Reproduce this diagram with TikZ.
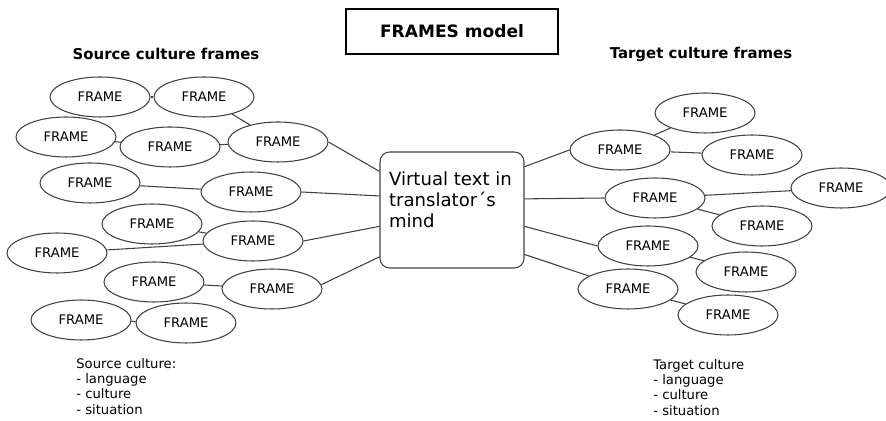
\documentclass[tikz,border=0pt]{standalone}
\usepackage{fontspec}
\setmainfont{DejaVu Sans}
\usetikzlibrary{shapes.geometric,calc}
\tikzset{
  frm/.style  = {ellipse, draw=black!75, line width=0.6pt, fill=white,
                 inner sep=0pt, minimum width=2cm, minimum height=0.8cm,
                 font=\fontsize{7.5}{9}\selectfont},
  vbox/.style = {rectangle, rounded corners=5.5pt, draw=black!75, line width=0.6pt,
                 inner xsep=0.18cm, inner ysep=0.1cm,
                 font=\fontsize{10.3}{12}\selectfont},
  ttl/.style  = {rectangle, draw=black, line width=1.2pt, minimum width=4.24cm,
                 minimum height=0.9cm, font=\bfseries\fontsize{9.7}{12}\selectfont},
  hdr/.style  = {inner sep=0pt, font=\bfseries\fontsize{8.5}{10}\selectfont},
  note/.style = {anchor=north west, align=left, inner sep=0pt,
                 font=\fontsize{7.5}{8.7}\selectfont},
  link/.style = {draw=black!75, line width=0.6pt},
}
\begin{document}
\begin{tikzpicture}[x=0.02cm, y=-0.02cm]
  \useasboundingbox (0,0) rectangle (886,421);

  % titles
  \node[ttl] (title) at (452,31.5) {FRAMES model};
  \node[hdr] (srch) at (166,54) {Source culture frames};
  \node[hdr] (tgth) at (701,54) {Target culture frames};

  % centre box
  \node[vbox] (mind) at (452,210)
       {\parbox[c][2.12cm][t]{2.52cm}{\vspace*{8.5pt}Virtual text in\\translator´s\\mind}};
  \coordinate (inl1) at ($(mind.north west)!0.17!(mind.south west)$);
  \coordinate (inl2) at ($(mind.north west)!0.38!(mind.south west)$);
  \coordinate (inl3) at ($(mind.north west)!0.64!(mind.south west)$);
  \coordinate (inl4) at ($(mind.north west)!0.90!(mind.south west)$);
  \coordinate (inr1) at ($(mind.north east)!0.13!(mind.south east)$);
  \coordinate (inr2) at ($(mind.north east)!0.405!(mind.south east)$);
  \coordinate (inr3) at ($(mind.north east)!0.64!(mind.south east)$);
  \coordinate (inr4) at ($(mind.north east)!0.88!(mind.south east)$);

  % source culture frames
  \node[frm] (s1)  at (100,97)  {FRAME};
  \node[frm] (s2)  at (204,97)  {FRAME};
  \node[frm] (s3)  at (66,137)  {FRAME};
  \node[frm] (s4)  at (170,147) {FRAME};
  \node[frm] (s5)  at (278,142) {FRAME};
  \node[frm] (s6)  at (90,183)  {FRAME};
  \node[frm] (s7)  at (251,192) {FRAME};
  \node[frm] (s8)  at (152,224) {FRAME};
  \node[frm] (s9)  at (253,241) {FRAME};
  \node[frm] (s10) at (57,253)  {FRAME};
  \node[frm] (s11) at (154,282) {FRAME};
  \node[frm] (s12) at (272,289) {FRAME};
  \node[frm] (s13) at (81,320)  {FRAME};
  \node[frm] (s14) at (186,323) {FRAME};

  % target culture frames
  \node[frm] (t1)  at (705,113) {FRAME};
  \node[frm] (t2)  at (620,150) {FRAME};
  \node[frm] (t3)  at (752,155) {FRAME};
  \node[frm] (t4)  at (655,198) {FRAME};
  \node[frm] (t5)  at (841,188) {FRAME};
  \node[frm] (t6)  at (762,226) {FRAME};
  \node[frm] (t7)  at (648,246) {FRAME};
  \node[frm] (t8)  at (746,272) {FRAME};
  \node[frm] (t9)  at (628,289) {FRAME};
  \node[frm] (t10) at (728,315) {FRAME};

  \draw[link] (s1) -- (s2);   \draw[link] (s2) -- (s5);
  \draw[link] (s3) -- (s4);   \draw[link] (s4) -- (s5);
  \draw[link] (s6) -- (s7);   \draw[link] (s8) -- (s9);
  \draw[link] (s10) -- (s9);  \draw[link] (s11) -- (s12);
  \draw[link] (s13) -- (s14);

  \draw[link] (s5.east) -- (inl1);
  \draw[link] (s7.east) -- (inl2);
  \draw[link] (s9.east) -- (inl3);
  \draw[link] (s12.5) -- (inl4);

  \draw[link] (t1) -- (t2);   \draw[link] (t2) -- (t3);
  \draw[link] (t4) -- (t5);   \draw[link] (t4) -- (t6);
  \draw[link] (t7) -- (t8);   \draw[link] (t9) -- (t10);

  \draw[link] (inr1) -- (t2.west);
  \draw[link] (inr2) -- (t4.west);
  \draw[link] (inr3) -- (t7.west);
  \draw[link] (inr4) -- (t9);

  % notes
  \node[note] (srcn) at (76,358) {Source culture:\\- language\\- culture\\- situation};
  \node[note] (tgtn) at (653,359) {Target culture\\- language\\- culture\\- situation};

\end{tikzpicture}
\end{document}
